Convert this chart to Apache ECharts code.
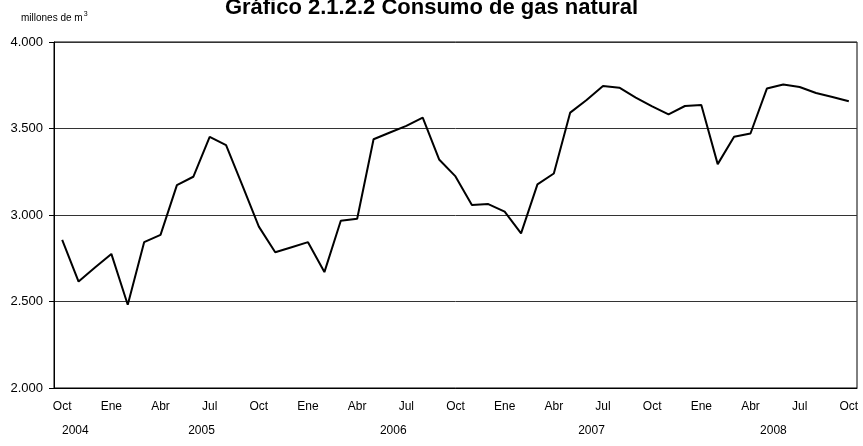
<!DOCTYPE html>
<html>
<head>
<meta charset="utf-8">
<script src="https://cdn.jsdelivr.net/npm/echarts@6/dist/echarts.min.js"></script>
<style>
    html, body { margin: 0; padding: 0; background: #fff; }
    #chart { width: 863px; height: 446px; }
</style>
</head>
<body>
<div id="chart"></div>
<script>
    // meses desde Oct 2004 hasta Oct 2008
    var months = ['Oct', 'Nov', 'Dic',
        'Ene', 'Feb', 'Mar', 'Abr', 'May', 'Jun', 'Jul', 'Ago', 'Sep', 'Oct', 'Nov', 'Dic',
        'Ene', 'Feb', 'Mar', 'Abr', 'May', 'Jun', 'Jul', 'Ago', 'Sep', 'Oct', 'Nov', 'Dic',
        'Ene', 'Feb', 'Mar', 'Abr', 'May', 'Jun', 'Jul', 'Ago', 'Sep', 'Oct', 'Nov', 'Dic',
        'Ene', 'Feb', 'Mar', 'Abr', 'May', 'Jun', 'Jul', 'Ago', 'Sep', 'Oct'];

    // consumo mensual, millones de m3
    var consumo = [2856, 2615, 2696,
        2775, 2481, 2843, 2885, 3173, 3221, 3452, 3404, 3170, 2933, 2785, 2814,
        2843, 2670, 2967, 2978, 3438, 3477, 3515, 3563, 3321, 3223, 3058, 3063,
        3019, 2894, 3177, 3240, 3592, 3665, 3746, 3736, 3679, 3628, 3582, 3630,
        3636, 3294, 3452, 3471, 3731, 3754, 3740, 3705, 3682, 3657];

    // etiquetas de año y su posicion (indice de mes)
    var years = ['2004', '2005', '2006', '2007', '2008'];
    var yearPos = [0.8, 8.5, 20.2, 32.3, 43.4];

    var yTicks = [2000, 2500, 3000, 3500, 4000];

    var font = 'Liberation Sans, Arial, sans-serif';
    var myChart = echarts.init(document.getElementById('chart'));

    var option = {
        backgroundColor: '#ffffff',
        animation: false,
        title: {
            text: 'Gráfico 2.1.2.2 Consumo de gas natural',
            left: 'center',
            top: -8,
            textStyle: {
                fontFamily: font,
                fontWeight: 'bold',
                fontSize: 22,
                color: '#000'
            }
        },
        graphic: [{
            type: 'text',
            x: 21,
            y: 11,
            style: {
                text: '{a|millones de m}{s|3}',
                rich: {
                    a: { fontFamily: font, fontSize: 10, fill: '#000' },
                    s: { fontFamily: font, fontSize: 7, fill: '#000', padding: [0, 0, 7, 1] }
                }
            }
        }],
        grid: {
            left: 54,
            right: 6,
            top: 42,
            bottom: 58,
            show: true,
            borderColor: '#000',
            borderWidth: 1
        },
        xAxis: [{
            type: 'category',
            data: months,
            boundaryGap: true,
            axisLine: { lineStyle: { color: '#000', width: 1 } },
            axisTick: { show: false },
            axisLabel: {
                interval: 2,
                margin: 13,
                fontFamily: font,
                fontSize: 12,
                color: '#000'
            }
        }, {
            // fila de años
            type: 'value',
            position: 'bottom',
            min: -0.5,
            max: months.length - 0.5,
            offset: 24,
            axisLine: { show: false },
            axisTick: { show: false },
            splitLine: { show: false },
            axisLabel: {
                customValues: yearPos,
                margin: 13,
                fontFamily: font,
                fontSize: 12,
                color: '#000',
                formatter: function (v) {
                    var k = yearPos.indexOf(v);
                    return k >= 0 ? years[k] : '';
                }
            }
        }],
        yAxis: {
            type: 'value',
            min: yTicks[0],
            max: yTicks[yTicks.length - 1],
            interval: 500,
            axisLine: { show: true, onZero: false, lineStyle: { color: '#000', width: 1 } },
            axisTick: { show: true, length: 5, lineStyle: { color: '#000' } },
            splitLine: { lineStyle: { color: '#333', width: 1 } },
            axisLabel: {
                margin: 11,
                fontFamily: font,
                fontSize: 13,
                color: '#000',
                formatter: function (v) {
                    return String(v).replace(/\B(?=(\d{3})+(?!\d))/g, '.');
                }
            }
        },
        series: [{
            name: 'Consumo',
            type: 'line',
            xAxisIndex: 0,
            data: consumo,
            symbol: 'none',
            lineStyle: { color: '#000', width: 2 }
        }]
    };

    myChart.setOption(option);
</script>
</body>
</html>
